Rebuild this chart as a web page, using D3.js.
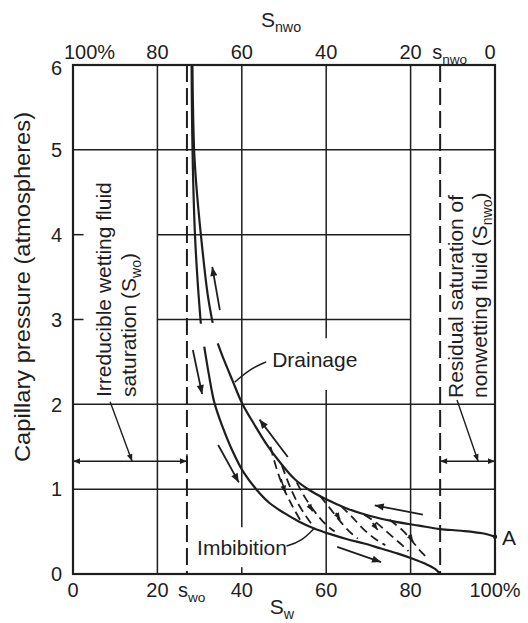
<!DOCTYPE html>
<html><head><meta charset="utf-8">
<script src="https://cdn.jsdelivr.net/npm/d3@7"></script>
<style>
body{margin:0;background:#fff}
svg{display:block}
text{font-family:"Liberation Sans",Arial,Helvetica,sans-serif;fill:#1e1e1e}
</style>
</head><body>
<svg id="c" width="528" height="623"></svg>
<script>
// ---------------- data ----------------
const swTicks = [0, 20, 40, 60, 80, 100];
const swTickLabels = ["0", "20", "40", "60", "80", "100%"];
const snwoTickLabels = ["100%", "80", "60", "40", "20", "0"];
const pTicks = [0, 1, 2, 3, 4, 5, 6];
const swo = 27;          // irreducible wetting saturation, %
const swAtSnwo = 87;     // 100 - residual nonwetting saturation, %
const pointA = [100, 0.44];

// drainage curve (upper solid), split by the break in the drawing
const drainageLow = [[100,0.44],[97,0.48],[92,0.51],[87,0.53],[82,0.57],[76,0.62],[70,0.69],[65,0.77],[60,0.88],[56,0.99],[52.5,1.12],[49,1.32],[46,1.52],[43,1.76],[40,2.02],[37.8,2.28],[35.8,2.52],[34.3,2.72]];
const drainageHigh = [[33.1,2.96],[31.9,3.3],[30.3,4.0],[29.2,4.6],[28.7,5.0],[28.4,5.6],[28.3,6.0]];
// imbibition curve (lower solid)
const imbibitionLow = [[31.1,2.68],[32.2,2.35],[33.5,2.02],[35.4,1.74],[37.8,1.45],[40.4,1.2],[43.4,1.0],[46.5,0.84],[50,0.72],[53.5,0.62],[57,0.54],[61,0.47],[65,0.41],[69,0.36],[73,0.3],[77,0.24],[80.5,0.18],[83.5,0.12],[85.8,0.06],[87,0]];
const imbibitionHigh = [[30.3,2.95],[29.6,3.4],[28.9,4.0],[28.4,4.8],[28.2,5.4],[28.1,6.0]];

// scanning curves (dashed)
const scanCurves = [
  [[46.8,1.5],[48.2,1.25],[50,1.0],[52,0.8],[53.8,0.64]],
  [[49.5,1.28],[51,1.08],[53,0.86],[55.5,0.66],[57,0.56]],
  [[53,1.08],[55,0.9],[57.5,0.72],[60,0.58],[62,0.5]],
  [[58.5,0.92],[60.5,0.8],[63,0.64],[65.5,0.5],[67.5,0.42]],
  [[63.5,0.8],[66,0.68],[69,0.52],[72,0.4],[74,0.34]],
  [[69,0.7],[72,0.6],[75,0.47],[78,0.34],[79.5,0.27]],
  [[75,0.64],[78,0.52],[80.5,0.38],[82.5,0.26],[84,0.19]]
];

// solid arrows [from, to]  (Sw %, Pc atm)
const arrows = [
  [[34.8,3.11],[33.0,3.62]],
  [[28.4,2.64],[30.6,2.12]],
  [[50.9,1.38],[44.2,1.82]],
  [[34.4,1.52],[39.3,1.08]],
  [[82.9,0.70],[71.5,0.81]],
  [[62.6,0.32],[73.0,0.14]]
];
// arrows on the scanning curves
const scanArrows = [
  [[49.3,1.12],[50.3,0.96]],
  [[55.8,0.82],[56.8,0.74]],
  [[62.3,0.72],[63.3,0.64]],
  [[71,0.6],[72.2,0.52]],
  [[79.6,0.46],[80.6,0.38]]
];

// annotation leaders
const leaderLeft = [[8.8,2.03],[14.0,1.33]];
const leaderRight = [[91.0,2.05],[96.0,1.33]];
const dimLevel = 1.33;
const drainageLeader = [[45.8,2.5],[42,2.42],[38.3,2.26]];
const imbibitionLeader = [[50.6,0.33],[54,0.38],[57.2,0.54]];

// ---------------- drawing ----------------
const svg = d3.select("#c");
const x = d3.scaleLinear().domain([0, 100]).range([73, 495]);
const y = d3.scaleLinear().domain([0, 6]).range([574, 65]);
const ink = "#1e1e1e";

const defs = svg.append("defs");
function marker(id, w, h) {
  defs.append("marker").attr("id", id)
    .attr("viewBox", "0 0 10 10").attr("refX", 10).attr("refY", 5)
    .attr("markerWidth", w).attr("markerHeight", h)
    .attr("markerUnits", "userSpaceOnUse").attr("orient", "auto-start-reverse")
    .append("path").attr("d", "M0,1 L10,5 L0,9 Z").attr("fill", ink);
}
marker("ah", 13, 9);
marker("ahs", 10, 7);

const g = svg.append("g");
const seg = (a, b, w) => g.append("line")
  .attr("x1", x(a[0])).attr("y1", y(a[1])).attr("x2", x(b[0])).attr("y2", y(b[1]))
  .attr("stroke", ink).attr("stroke-width", w || 1.5);

// grid lines (segments as in the original figure)
seg([20,0],[20,6]);
seg([80,0],[80,6]);
seg([40,0.55],[40,6]);
seg([40,0],[40,0.08]);
seg([60,0],[60,2.17]);
seg([60,2.78],[60,6]);
seg([0,5],[100,5]);
seg([0,2],[100,2]);
seg([0,1],[100,1]);
seg([20,4],[80,4]);
seg([0,4],[2.5,4]);
seg([20,3],[80,3]);
seg([0,3],[2.5,3]);

// dashed limits
[swo, swAtSnwo].forEach(s => g.append("line")
  .attr("x1", x(s)).attr("x2", x(s)).attr("y1", y(6)).attr("y2", y(0))
  .attr("stroke", ink).attr("stroke-width", 2).attr("stroke-dasharray", "17,6"));

// frame
g.append("rect").attr("x", x(0)).attr("y", y(6)).attr("width", x(100) - x(0)).attr("height", y(0) - y(6))
  .attr("fill", "none").attr("stroke", ink).attr("stroke-width", 2.2);

// axes tick labels
const fs = 20;
svg.append("g").selectAll("text").data(swTicks).join("text")
  .attr("x", d => x(d)).attr("y", 597).attr("text-anchor", "middle").attr("font-size", fs)
  .text((d, i) => swTickLabels[i]);
svg.append("g").selectAll("text").data(swTicks).join("text")
  .attr("x", d => d === 0 ? x(d) - 9 : (d === 100 ? x(d) - 5 : x(d))).attr("y", 59)
  .attr("text-anchor", d => d === 0 ? "start" : "middle").attr("font-size", fs)
  .text((d, i) => snwoTickLabels[i]);
svg.append("g").selectAll("text").data(pTicks).join("text")
  .attr("x", 62).attr("y", d => y(d)).attr("dy", d => d === 6 ? "0.5em" : "0.36em").attr("text-anchor", "end").attr("font-size", fs)
  .text(d => d);

function subText(parent, xx, yy, main, sub, size, anchor) {
  const t = parent.append("text").attr("x", xx).attr("y", yy).attr("font-size", size).attr("text-anchor", anchor || "middle");
  t.append("tspan").text(main);
  t.append("tspan").attr("font-size", size * 0.68).attr("dy", size * 0.25).text(sub);
  return t;
}
// special tick labels
subText(svg, x(swo) - 9, 597, "s", "wo", fs, "start");
subText(svg, x(swAtSnwo) - 8, 59, "s", "nwo", fs, "start");
// axis titles
subText(svg, 281, 27, "S", "nwo", 21);
subText(svg, 282, 614, "S", "w", 21);
svg.append("text").attr("transform", "translate(30,287) rotate(-90)").attr("text-anchor", "middle")
  .attr("font-size", 21.5).attr("textLength", 350).attr("lengthAdjust", "spacingAndGlyphs")
  .text("Capillary pressure (atmospheres)");

// curves
const line = d3.line().x(d => x(d[0])).y(d => y(d[1])).curve(d3.curveCatmullRom.alpha(0.5));
[drainageLow, drainageHigh, imbibitionLow, imbibitionHigh].forEach(c =>
  g.append("path").attr("d", line(c)).attr("fill", "none").attr("stroke", ink).attr("stroke-width", 2.2));
scanCurves.forEach(c =>
  g.append("path").attr("d", line(c)).attr("fill", "none").attr("stroke", ink).attr("stroke-width", 1.8).attr("stroke-dasharray", "9,5"));

arrows.forEach(a => g.append("line")
  .attr("x1", x(a[0][0])).attr("y1", y(a[0][1])).attr("x2", x(a[1][0])).attr("y2", y(a[1][1]))
  .attr("stroke", ink).attr("stroke-width", 1.8).attr("marker-end", "url(#ah)"));
scanArrows.forEach(a => g.append("line")
  .attr("x1", x(a[0][0])).attr("y1", y(a[0][1])).attr("x2", x(a[1][0])).attr("y2", y(a[1][1]))
  .attr("stroke", ink).attr("stroke-width", 1.6).attr("marker-end", "url(#ahs)"));

// dimension arrows and leaders
[[0, swo], [swAtSnwo, 100]].forEach(r => {
  g.append("line").attr("x1", x(r[0])).attr("x2", x(r[1])).attr("y1", y(dimLevel)).attr("y2", y(dimLevel))
    .attr("stroke", ink).attr("stroke-width", 1.5)
    .attr("marker-start", "url(#ahs)").attr("marker-end", "url(#ahs)");
});
g.append("line").attr("x1", x(swo)).attr("x2", x(swo)).attr("y1", y(dimLevel) - 7).attr("y2", y(dimLevel) + 7)
  .attr("stroke", ink).attr("stroke-width", 1.5);
[leaderLeft, leaderRight].forEach(l => g.append("line")
  .attr("x1", x(l[0][0])).attr("y1", y(l[0][1])).attr("x2", x(l[1][0])).attr("y2", y(l[1][1]))
  .attr("stroke", ink).attr("stroke-width", 1.4).attr("marker-end", "url(#ahs)"));
const lead = d3.line().x(d => x(d[0])).y(d => y(d[1])).curve(d3.curveBasis);
[drainageLeader, imbibitionLeader].forEach(l => g.append("path").attr("d", lead(l))
  .attr("fill", "none").attr("stroke", ink).attr("stroke-width", 1.5));

// labels
const lfs = 21;
svg.append("text").attr("x", x(47.2)).attr("y", y(2.44)).attr("font-size", lfs).text("Drainage");
svg.append("text").attr("x", x(29.4)).attr("y", y(0.22)).attr("font-size", lfs).text("Imbibition");
svg.append("text").attr("x", x(pointA[0]) + 7).attr("y", y(pointA[1]) + 8).attr("font-size", lfs).text("A");
g.append("circle").attr("cx", x(pointA[0])).attr("cy", y(pointA[1])).attr("r", 2.2).attr("fill", ink);

svg.append("text").attr("transform", `translate(111,397) rotate(-90)`).attr("font-size", lfs).text("Irreducible wetting fluid");
const t2 = svg.append("text").attr("transform", `translate(136,397) rotate(-90)`).attr("font-size", lfs);
t2.append("tspan").text("saturation (S");
t2.append("tspan").attr("font-size", 14).attr("dy", 5).text("wo");
t2.append("tspan").attr("dy", -5).text(")");
svg.append("text").attr("transform", `translate(463,398) rotate(-90)`).attr("font-size", lfs).text("Residual saturation of");
const t4 = svg.append("text").attr("transform", `translate(487,398) rotate(-90)`).attr("font-size", lfs);
t4.append("tspan").text("nonwetting fluid (S");
t4.append("tspan").attr("font-size", 14).attr("dy", 5).text("nwo");
t4.append("tspan").attr("dy", -5).text(")");
</script>
</body></html>
